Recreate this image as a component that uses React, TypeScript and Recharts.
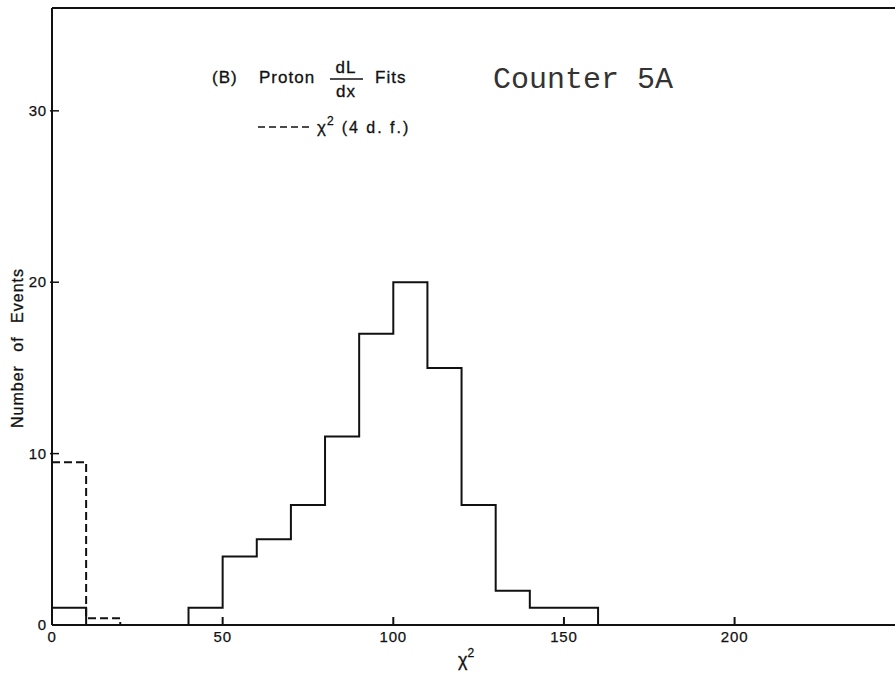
import { Line, LineChart, XAxis, YAxis } from 'recharts'

// histogram bin edges (chi^2), 10 units wide
const binEdges = [0, 10, 20, 30, 40, 50, 60, 70, 80, 90, 100, 110, 120, 130, 140, 150, 160]
// proton dL/dx fits, events per bin
const protonCounts = [1, 0, 0, 0, 1, 4, 5, 7, 11, 17, 20, 15, 7, 2, 1, 1]
// expected chi^2 (4 d.f.) curve, binned
const chiSqCounts = [9.5, 0.4]

const xTicks = [0, 50, 100, 150, 200]
const topTicks = [50, 100, 150, 200]
const yTicks = [0, 10, 20, 30]

const W = 895
const H = 677
const INK = '#111'
const SANS = '"Liberation Sans", Arial, sans-serif'

// step points: one per bin edge, closing back at 0 after the last bin
const toSteps = (counts: number[]) =>
  binEdges.slice(0, counts.length + 1).map((x, i) => ({ x, y: counts[i] ?? 0 }))

const protonSteps = toSteps(protonCounts)
const chiSqSteps = toSteps(chiSqCounts)

const BottomTick = ({ x, y, payload }: any) => (
  <g>
    {payload.value !== 0 && <line x1={x} y1={y} x2={x} y2={y - 8} stroke={INK} strokeWidth={2} />}
    <text
      x={x}
      y={y + 17}
      textAnchor="middle"
      fontSize={15}
      letterSpacing={0.8}
      fontFamily={SANS}
      fill={INK}
      stroke={INK}
      strokeWidth={0.25}
    >
      {payload.value}
    </text>
  </g>
)

const TopTick = ({ x, y }: any) => <line x1={x} y1={y} x2={x} y2={y + 8} stroke={INK} strokeWidth={2} />

const LeftTick = ({ x, y, payload }: any) => (
  <g>
    {payload.value !== 0 && <line x1={x - 2} y1={y} x2={x + 7} y2={y} stroke={INK} strokeWidth={1.5} />}
    <text
      x={x - 5}
      y={y + 5}
      textAnchor="end"
      fontSize={15}
      letterSpacing={0.8}
      fontFamily={SANS}
      fill={INK}
      stroke={INK}
      strokeWidth={0.25}
    >
      {payload.value}
    </text>
  </g>
)

const Annotations = () => (
  <svg
    width={W}
    height={H}
    style={{ position: 'absolute', left: 0, top: 0, pointerEvents: 'none' }}
  >
    <g fontFamily={SANS} fill={INK} stroke={INK} strokeWidth={0.3} fontSize={17} letterSpacing={1}>
      <text x={212} y={83}>(B)</text>
      <text x={259} y={83}>Proton</text>
      <text x={346} y={73} textAnchor="middle">dL</text>
      <line x1={330} y1={79} x2={363} y2={79} stroke={INK} strokeWidth={1.5} />
      <text x={346} y={97} textAnchor="middle">dx</text>
      <text x={375} y={83}>Fits</text>
      <line x1={258} y1={127} x2={310} y2={127} stroke={INK} strokeWidth={1.5} strokeDasharray="7 4" />
      <text x={317} y={133}>
        χ<tspan fontSize={12} dy={-8}>2</tspan>
        <tspan fontSize={16} dy={8} dx={7} letterSpacing={2}>(4 d. f.)</tspan>
      </text>
    </g>
    <text x={493} y={88} fontFamily='"Liberation Mono", monospace' fontSize={30} fill="#333">
      Counter 5A
    </text>
    <text
      transform="translate(23 348) rotate(-90)"
      textAnchor="middle"
      fontFamily={SANS}
      fontSize={16}
      letterSpacing={1}
      wordSpacing={8}
      fill={INK}
      stroke={INK}
      strokeWidth={0.3}
    >
      Number of Events
    </text>
    <text x={458} y={666} fontFamily={SANS} fontSize={18} fill={INK} stroke={INK} strokeWidth={0.3}>
      χ<tspan fontSize={12} dy={-9}>2</tspan>
    </text>
  </svg>
)

export default function App() {
  return (
    <div style={{ position: 'absolute', left: 0, top: 0, width: W, height: H, background: '#fff' }}>
      <LineChart width={W} height={H} margin={{ top: 0, right: 0, bottom: 0, left: 0 }}>
        <XAxis
          xAxisId="bottom"
          dataKey="x"
          type="number"
          domain={[0, 247]}
          ticks={xTicks}
          orientation="bottom"
          height={52}
          tickSize={0}
          tickMargin={0}
          tickLine={false}
          axisLine={{ stroke: INK, strokeWidth: 2 }}
          tick={<BottomTick />}
          interval={0}
        />
        <XAxis
          xAxisId="top"
          dataKey="x"
          type="number"
          domain={[0, 247]}
          ticks={topTicks}
          orientation="top"
          height={8}
          tickSize={0}
          tickMargin={0}
          tickLine={false}
          axisLine={{ stroke: INK, strokeWidth: 2 }}
          tick={<TopTick />}
          interval={0}
        />
        <YAxis
          dataKey="y"
          type="number"
          domain={[0, 36]}
          ticks={yTicks}
          width={52}
          tickSize={0}
          tickMargin={0}
          tickLine={false}
          axisLine={{ stroke: INK, strokeWidth: 2 }}
          tick={<LeftTick />}
          interval={0}
        />
        <Line
          xAxisId="bottom"
          data={chiSqSteps}
          dataKey="y"
          type="stepAfter"
          stroke={INK}
          strokeWidth={2}
          strokeDasharray="8 4"
          dot={false}
          activeDot={false}
          isAnimationActive={false}
        />
        <Line
          xAxisId="bottom"
          data={protonSteps}
          dataKey="y"
          type="stepAfter"
          stroke={INK}
          strokeWidth={2}
          dot={false}
          activeDot={false}
          isAnimationActive={false}
        />
      </LineChart>
      <Annotations />
    </div>
  )
}
